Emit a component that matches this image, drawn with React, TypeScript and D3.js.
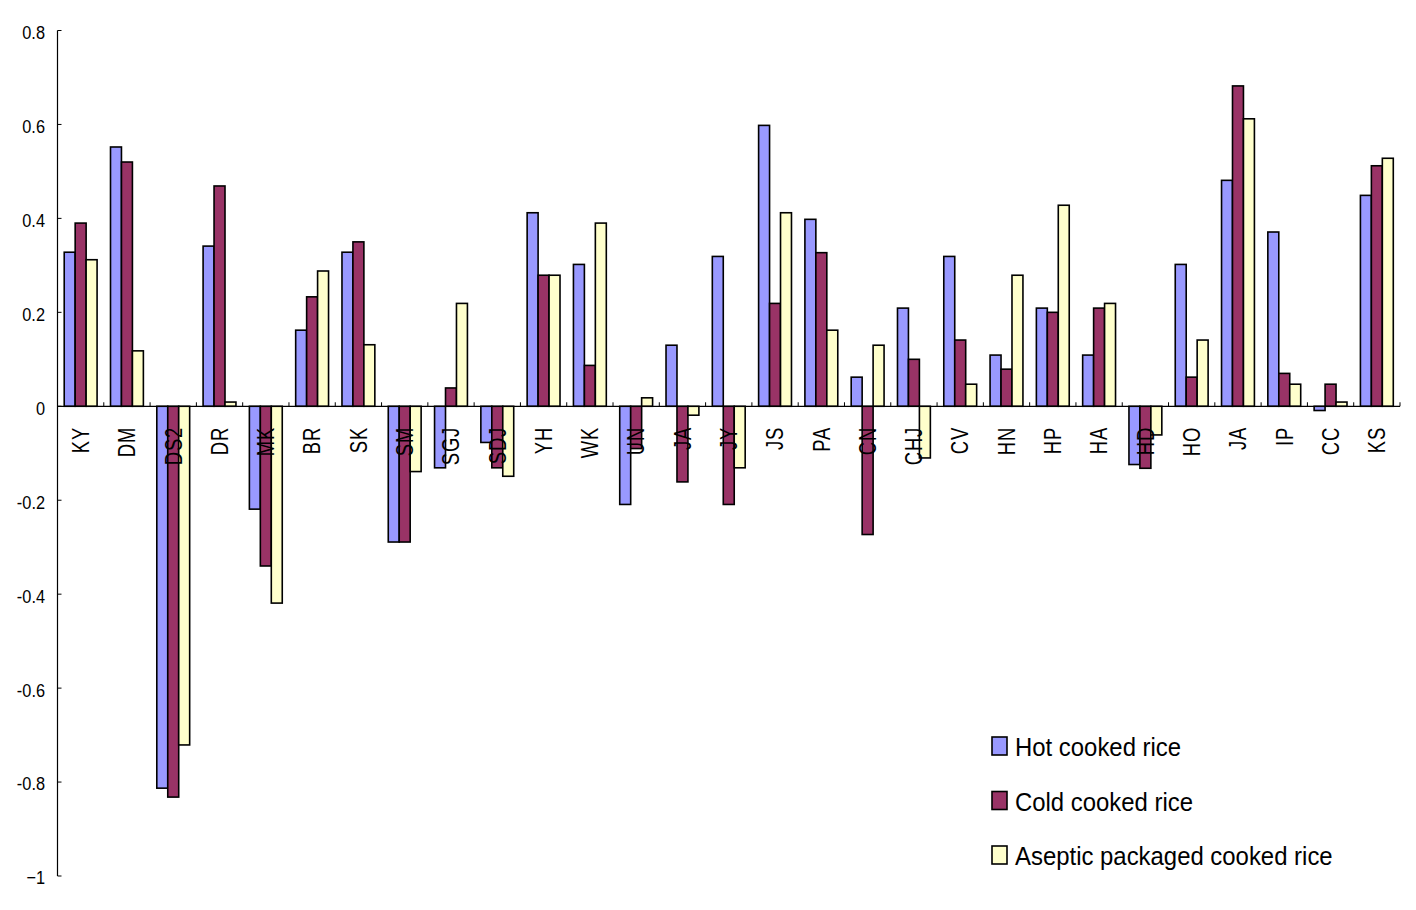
import React from "react";
import * as d3 from "d3";

const categories = ["KY","DM","DS2","DR","MK","BR","SK","SM","SGJ","SDJ","YH","WK","UN","JA","JY","JS","PA","CN","CHJ","CV","HN","HP","HA","HD","HO","JA","IP","CC","KS"];
const hotValues = [0.328,0.552,-0.813,0.341,-0.219,0.162,0.328,-0.289,-0.131,-0.077,0.412,0.302,-0.209,0.13,0.319,0.598,0.398,0.062,0.209,0.319,0.109,0.209,0.109,-0.124,0.302,0.481,0.371,-0.009,0.449];
const coldValues = [0.39,0.52,-0.832,0.469,-0.34,0.233,0.35,-0.289,0.039,-0.131,0.279,0.087,-0.09,-0.161,-0.209,0.219,0.327,-0.273,0.1,0.141,0.079,0.2,0.209,-0.132,0.062,0.682,0.07,0.047,0.512];
const asepticValues = [0.312,0.118,-0.721,0.009,-0.419,0.288,0.131,-0.139,0.219,-0.149,0.279,0.39,0.018,-0.019,-0.131,0.412,0.162,0.13,-0.11,0.047,0.279,0.428,0.219,-0.061,0.141,0.612,0.047,0.009,0.528];
const seriesNames = ["Hot cooked rice","Cold cooked rice","Aseptic packaged cooked rice"];
const seriesColors = ["#9999FF","#993366","#FFFFCC"];
const yTicks = [0.8,0.6,0.4,0.2,0,-0.2,-0.4,-0.6,-0.8,-1];

const FONT = "'Liberation Sans', Arial, sans-serif";

export default function App() {
  const W = 1416, H = 910;
  const x0 = 57.5, x1 = 1400;
  const y = d3.scaleLinear().domain([-1, 0.8]).range([876, 30.5]);
  const idx = categories.map((_, i) => i);
  const x = d3.scaleBand<number>().domain(idx).range([x0, x1]).paddingInner(0).paddingOuter(0);
  const bw = x.bandwidth();
  const groupW = bw * 0.71;
  const inner = d3.scaleBand<number>().domain([0,1,2]).range([0, groupW]);
  const series = [hotValues, coldValues, asepticValues];
  const y0 = y(0);

  return (
    <svg width={W} height={H} style={{ position: "absolute", left: 0, top: 0, background: "#fff" }}>
      {/* bars */}
      {series.map((vals, s) =>
        vals.map((v, i) => {
          const bx = (x(i) as number) + (bw - groupW) / 2 + (inner(s) as number);
          const top = Math.min(y(v), y0);
          const h = Math.abs(y(v) - y0);
          return (
            <rect key={`${s}-${i}`} x={bx} y={top} width={inner.bandwidth()} height={h}
              fill={seriesColors[s]} stroke="#000" strokeWidth={1.6} />
          );
        })
      )}
      {/* zero axis */}
      <line x1={x0} x2={x1} y1={y0} y2={y0} stroke="#000" strokeWidth={1.2} />
      {idx.map((i) => (
        <line key={`t${i}`} x1={(x(i) as number) + bw} x2={(x(i) as number) + bw} y1={y0} y2={y0 - 4} stroke="#000" strokeWidth={1} />
      ))}
      {/* y axis */}
      <line x1={x0} x2={x0} y1={y(0.8)} y2={y(-1)} stroke="#000" strokeWidth={1.2} />
      {yTicks.map((t) => (
        <g key={`y${t}`}>
          <line x1={x0} x2={x0 + 4} y1={y(t)} y2={y(t)} stroke="#000" strokeWidth={1} />
          <text transform={`translate(45,${y(t) + 2}) scale(0.86,1)`} textAnchor="end" dominantBaseline="central"
            fontFamily={FONT} fontSize={19} fill="#000">
            {t === -1 ? "−1" : String(t)}
          </text>
        </g>
      ))}
      {/* category labels */}
      {categories.map((c, i) => {
        const cx = (x(i) as number) + bw / 2;
        return (
          <text key={`c${i}`} transform={`translate(${cx},${427}) rotate(-90) scale(0.8,1)`}
            textAnchor="end" dominantBaseline="central" fontFamily={FONT} fontSize={23} fill="#000"
            letterSpacing={1}>
            {c}
          </text>
        );
      })}
      {/* legend */}
      {seriesNames.map((n, s) => {
        const cy = 746 + s * 54.5;
        return (
          <g key={`l${s}`}>
            <rect x={992} y={cy - 9} width={15} height={18} fill={seriesColors[s]} stroke="#000" strokeWidth={1.6} />
            <text transform={`translate(1015,${cy + 1}) scale(0.92,1)`} dominantBaseline="central" fontFamily={FONT} fontSize={26} fill="#000">
              {n}
            </text>
          </g>
        );
      })}
    </svg>
  );
}
